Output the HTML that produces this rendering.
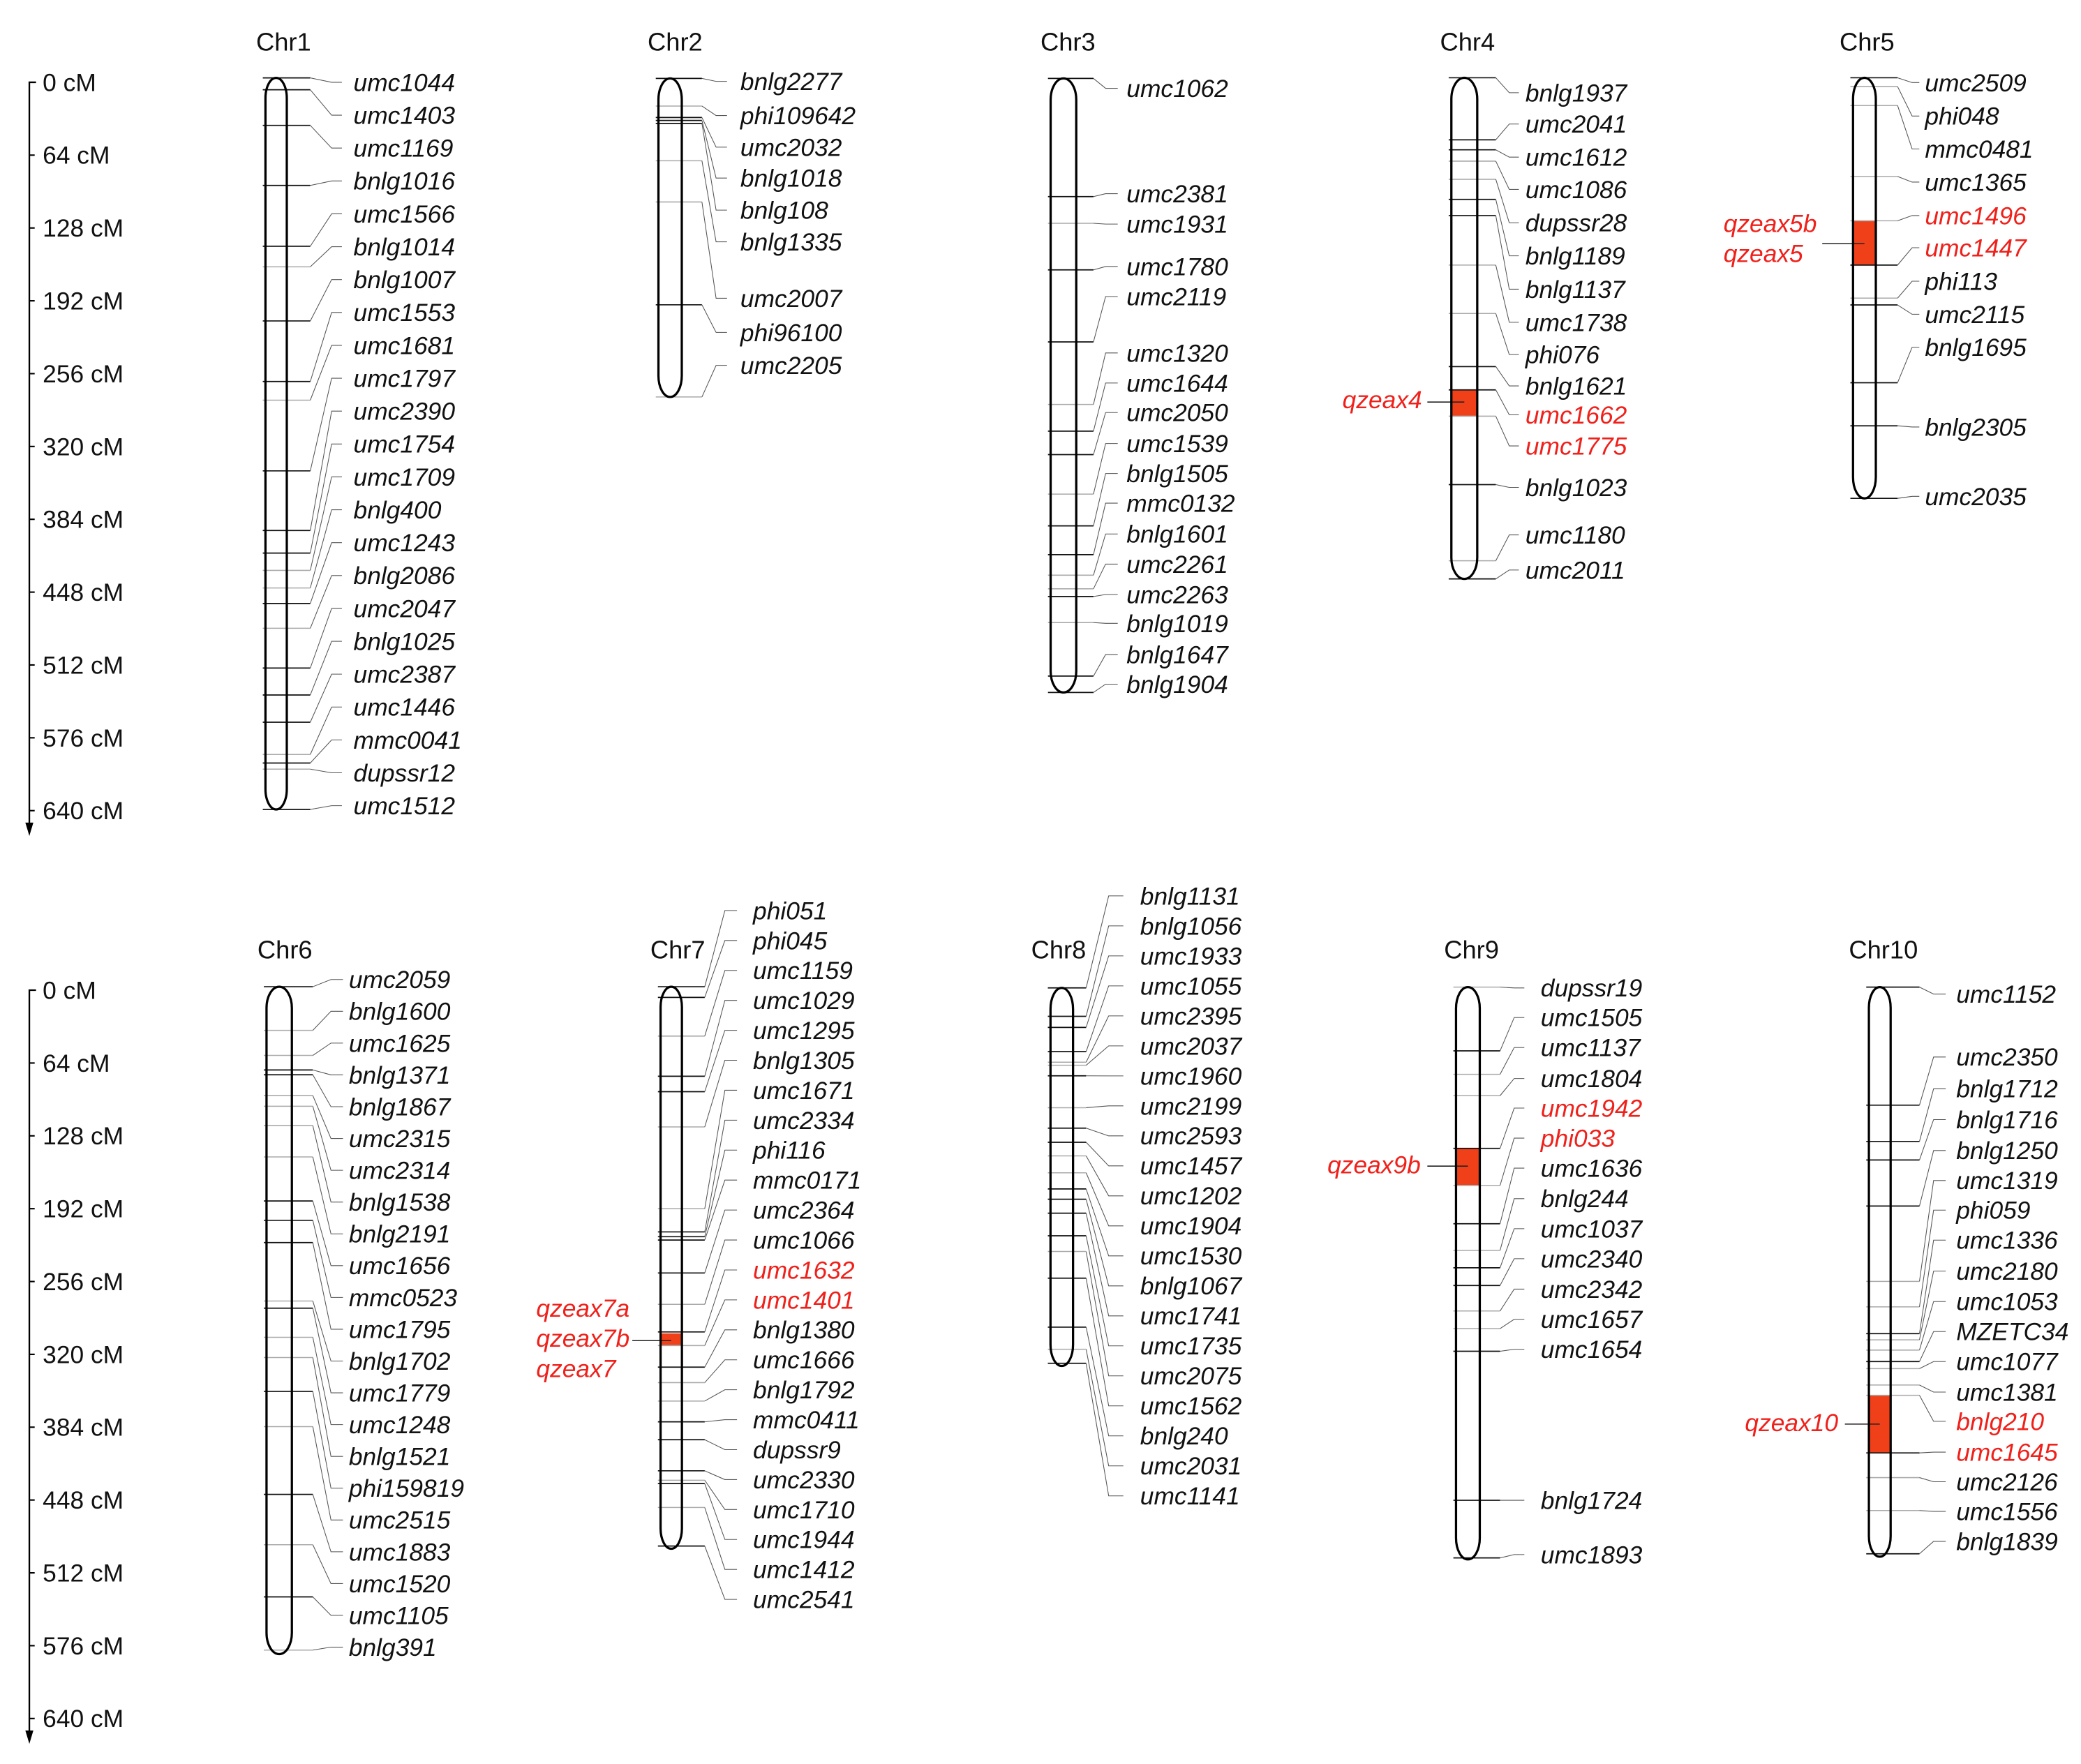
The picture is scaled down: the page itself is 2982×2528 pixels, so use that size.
<!DOCTYPE html>
<html><head><meta charset="utf-8"><style>
html,body{margin:0;padding:0;background:#fff}
svg{display:block}
text{font-family:"Liberation Sans",Arial,sans-serif;font-size:18.5px;fill:#111}
.m text{font-style:italic}
.r{fill:#f0201a!important}
.ttl{font-size:19px}
</style></head><body>
<svg id="s" xmlns="http://www.w3.org/2000/svg" width="2982" height="2528" viewBox="0 0 1560 1322.4" preserveAspectRatio="none">
<rect x="0" y="0" width="1560" height="1322.4" fill="#fff"/>
<g id="lines"></g>
<g class="ttl">
<text class="ttl" x="192" y="37.8">Chr1</text><text class="ttl" x="485.5" y="37.8">Chr2</text><text class="ttl" x="780" y="37.8">Chr3</text><text class="ttl" x="1079.5" y="37.8">Chr4</text><text class="ttl" x="1379" y="37.8">Chr5</text>
<text class="ttl" x="193" y="718.4">Chr6</text><text class="ttl" x="487.5" y="718.4">Chr7</text><text class="ttl" x="773" y="718.4">Chr8</text><text class="ttl" x="1082.5" y="718.4">Chr9</text><text class="ttl" x="1386" y="718.4">Chr10</text>
</g>
<g id="scale1"><text x="32" y="68.2">0 cM</text><text x="32" y="122.8">64 cM</text><text x="32" y="177.4">128 cM</text><text x="32" y="232">192 cM</text><text x="32" y="286.6">256 cM</text><text x="32" y="341.2">320 cM</text><text x="32" y="395.8">384 cM</text><text x="32" y="450.4">448 cM</text><text x="32" y="505">512 cM</text><text x="32" y="559.6">576 cM</text><text x="32" y="614.2">640 cM</text></g>
<g id="scale2"><text x="32" y="748.8">0 cM</text><text x="32" y="803.4">64 cM</text><text x="32" y="858">128 cM</text><text x="32" y="912.6">192 cM</text><text x="32" y="967.2">256 cM</text><text x="32" y="1021.8">320 cM</text><text x="32" y="1076.4">384 cM</text><text x="32" y="1131">448 cM</text><text x="32" y="1185.6">512 cM</text><text x="32" y="1240.2">576 cM</text><text x="32" y="1294.8">640 cM</text></g>
<g class="m" id="c1"><text>umc1044</text><text>umc1403</text><text>umc1169</text><text>bnlg1016</text><text>umc1566</text><text>bnlg1014</text><text>bnlg1007</text><text>umc1553</text><text>umc1681</text><text>umc1797</text><text>umc2390</text><text>umc1754</text><text>umc1709</text><text>bnlg400</text><text>umc1243</text><text>bnlg2086</text><text>umc2047</text><text>bnlg1025</text><text>umc2387</text><text>umc1446</text><text>mmc0041</text><text>dupssr12</text><text>umc1512</text></g>
<g class="m" id="c2"><text>bnlg2277</text><text>phi109642</text><text>umc2032</text><text>bnlg1018</text><text>bnlg108</text><text>bnlg1335</text><text>umc2007</text><text>phi96100</text><text>umc2205</text></g>
<g class="m" id="c3"><text>umc1062</text><text>umc2381</text><text>umc1931</text><text>umc1780</text><text>umc2119</text><text>umc1320</text><text>umc1644</text><text>umc2050</text><text>umc1539</text><text>bnlg1505</text><text>mmc0132</text><text>bnlg1601</text><text>umc2261</text><text>umc2263</text><text>bnlg1019</text><text>bnlg1647</text><text>bnlg1904</text></g>
<g class="m" id="c4"><text>bnlg1937</text><text>umc2041</text><text>umc1612</text><text>umc1086</text><text>dupssr28</text><text>bnlg1189</text><text>bnlg1137</text><text>umc1738</text><text>phi076</text><text>bnlg1621</text><text class="r">umc1662</text><text class="r">umc1775</text><text>bnlg1023</text><text>umc1180</text><text>umc2011</text></g>
<g class="m" id="c5"><text>umc2509</text><text>phi048</text><text>mmc0481</text><text>umc1365</text><text class="r">umc1496</text><text class="r">umc1447</text><text>phi113</text><text>umc2115</text><text>bnlg1695</text><text>bnlg2305</text><text>umc2035</text></g>
<g class="m" id="c6"><text>umc2059</text><text>bnlg1600</text><text>umc1625</text><text>bnlg1371</text><text>bnlg1867</text><text>umc2315</text><text>umc2314</text><text>bnlg1538</text><text>bnlg2191</text><text>umc1656</text><text>mmc0523</text><text>umc1795</text><text>bnlg1702</text><text>umc1779</text><text>umc1248</text><text>bnlg1521</text><text>phi159819</text><text>umc2515</text><text>umc1883</text><text>umc1520</text><text>umc1105</text><text>bnlg391</text></g>
<g class="m" id="c7"><text>phi051</text><text>phi045</text><text>umc1159</text><text>umc1029</text><text>umc1295</text><text>bnlg1305</text><text>umc1671</text><text>umc2334</text><text>phi116</text><text>mmc0171</text><text>umc2364</text><text>umc1066</text><text class="r">umc1632</text><text class="r">umc1401</text><text>bnlg1380</text><text>umc1666</text><text>bnlg1792</text><text>mmc0411</text><text>dupssr9</text><text>umc2330</text><text>umc1710</text><text>umc1944</text><text>umc1412</text><text>umc2541</text></g>
<g class="m" id="c8"><text>bnlg1131</text><text>bnlg1056</text><text>umc1933</text><text>umc1055</text><text>umc2395</text><text>umc2037</text><text>umc1960</text><text>umc2199</text><text>umc2593</text><text>umc1457</text><text>umc1202</text><text>umc1904</text><text>umc1530</text><text>bnlg1067</text><text>umc1741</text><text>umc1735</text><text>umc2075</text><text>umc1562</text><text>bnlg240</text><text>umc2031</text><text>umc1141</text></g>
<g class="m" id="c9"><text>dupssr19</text><text>umc1505</text><text>umc1137</text><text>umc1804</text><text class="r">umc1942</text><text class="r">phi033</text><text>umc1636</text><text>bnlg244</text><text>umc1037</text><text>umc2340</text><text>umc2342</text><text>umc1657</text><text>umc1654</text><text>bnlg1724</text><text>umc1893</text></g>
<g class="m" id="c10"><text>umc1152</text><text>umc2350</text><text>bnlg1712</text><text>bnlg1716</text><text>bnlg1250</text><text>umc1319</text><text>phi059</text><text>umc1336</text><text>umc2180</text><text>umc1053</text><text>MZETC34</text><text>umc1077</text><text>umc1381</text><text class="r">bnlg210</text><text class="r">umc1645</text><text>umc2126</text><text>umc1556</text><text>bnlg1839</text></g>
<g class="m">
<text class="r" x="1066" y="306" text-anchor="end">qzeax4</text>
<text class="r" x="1292" y="174">qzeax5b</text>
<text class="r" x="1292" y="196.4">qzeax5</text>
<text class="r" x="402" y="987">qzeax7a</text>
<text class="r" x="402" y="1009.5">qzeax7b</text>
<text class="r" x="402" y="1032.3">qzeax7</text>
<text class="r" x="1065" y="879.7" text-anchor="end">qzeax9b</text>
<text class="r" x="1378" y="1073" text-anchor="end">qzeax10</text>
</g>
</svg>
<script>
(function(){
var NS="http://www.w3.org/2000/svg",L=document.getElementById('lines');
function el(n,a){var e=document.createElementNS(NS,n);for(var k in a)e.setAttribute(k,a[k]);L.appendChild(e);return e;}
function uni(a,b,n){var r=[];for(var i=0;i<n;i++)r.push(a+(b-a)*i/(n-1));return r;}
var C=[
{id:'c1',l:199,r:215,h:[232.6,248.6,256.3,265],top:58.4,bot:606.8,
m:[58.4,67.3,94,139,184.6,200,240.6,286,300,353,397.7,414.6,427.6,440.8,452.4,471,500.8,521,541.4,565.6,572,576.6,606.8],g:[5,8,12,13,15,19,21],L:uni(61.7,604,23)},
{id:'c2',l:493.6,r:511.1,h:[526.2,536.8,545,555],top:58.8,bot:297.6,
m:[58.8,79.5,88.1,90.3,92.5,120.5,151.4,228.5,297.6],g:[1,5,6,8],L:[61,86.6,110.3,133.5,157.5,181.3,223.6,249.2,273.9]},
{id:'c3',l:787.6,r:806.8,h:[819.7,828.8,837.9,844.5],top:58.8,bot:519.1,
m:[58.8,147.4,167.4,202.3,256.3,303.2,323.2,340.8,370.4,394.2,415.8,431.2,441.4,447.2,466.7,506.8,519.1],g:[2,5,8,11,12,14],L:[66.2,145.2,168,199.8,222.3,264.6,287.1,309.3,332.5,355,377.2,400.3,422.9,445.7,467.3,490.7,512.9]},
{id:'c4',l:1088,r:1107.4,h:[1121.3,1131.4,1138.6,1143.5],top:58.3,bot:434,
m:[58.3,104.8,112.3,120.8,134.4,149.5,161.6,198.7,235,274.8,292.3,312,363.3,420.4,434],g:[3,4,7,8,11,13],L:[69.5,93,117.8,142,167,191.8,216.8,241.6,265.8,289.3,311,334.3,365.4,401,427.3],red:[292.3,312],q:[1070,301.4]},
{id:'c5',l:1389.1,r:1406.2,h:[1422.5,1433.4,1438.8,1443],top:58.3,bot:373.6,
m:[58.3,64.9,79.1,132.3,165.5,198.7,223.5,228.6,286.9,319.2,373.6],g:[1,2,3,4,6],L:[61.9,87,111.7,136.5,161.6,185.7,210.8,235.6,260.3,320.1,372.1],red:[165.5,198.7],q:[1366,182.7]},
{id:'c6',l:199.8,r:218.8,h:[234.5,248.1,257.1,261.5],top:739.7,bot:1240,
m:[739.7,772.4,791.2,802.1,805.7,821.3,829.3,843.8,867.3,900.3,914.8,931.5,975.3,980.7,1002.5,1017.7,1043.1,1069.5,1120.3,1158,1197.1,1237],g:[1,2,5,6,7,8,12,14,15,17,19,21],L:uni(734.3,1234.8,22)},
{id:'c7',l:495.2,r:511.2,h:[528.3,543.4,552.5,564.5],top:739.7,bot:1161,
m:[739.7,747.7,776.7,806.8,818.4,844.8,906.1,923.5,927.1,929.6,954.3,977.8,998.5,1008.7,1024.9,1036.5,1050.3,1065.9,1079.3,1102.6,1109.7,1112.2,1130.1,1159],g:[2,5,6,11,13,15,16,20,22],L:uni(682.6,1199,24),red:[999.6,1008.7],q:[474,1005]},
{id:'c8',l:787.5,r:804.4,h:[814.2,831.1,842.1,854.7],top:740.6,bot:1024,
m:[740.6,761.9,770.2,788.4,796.3,798.6,806.5,830.4,845.7,856.3,866.5,879.2,891.3,899,909.5,926.4,938.2,958.2,994.9,1011.5,1022],g:[4,5,7,10,11,16,19],L:uni(671.6,1121.4,21)},
{id:'c9',l:1091.5,r:1109.3,h:[1124.5,1135.1,1142.7,1155],top:740,bot:1169,
m:[740,787.8,805.4,821.4,860.9,888.7,917.4,937.4,950.4,963.7,982.8,996,1013,1124.7,1167.9],g:[0,2,3,5,7,10,11],L:[740.6,762.8,785.3,808.5,830.7,853.2,875.7,898.6,921.1,943.6,966.4,989,1011.5,1124.7,1165.4],red:[860.9,888.7],q:[1070,874.2]},
{id:'c10',l:1401,r:1417.3,h:[1438.9,1449.5,1458.6,1466.5],top:740,bot:1167,
m:[740,828.5,855.7,869.6,904.1,960.6,979.7,999.8,1004.4,1012.1,1020.7,1026,1038.3,1046,1089.2,1107.7,1132.4,1164.8],g:[5,6,8,9,11,12,13,15,16],L:[745.2,792.4,816.2,839.3,862.5,885,907.2,929.7,952.9,975.7,998.2,1020.7,1043.6,1065.5,1088.6,1110.8,1133,1155.5],red:[1046,1089.2],q:[1383,1067.6]}
];
C.forEach(function(c){
 var w=c.r-c.l,ry=Math.min(16,w*0.95);
 el('rect',{x:c.l,y:c.top,width:w,height:c.bot-c.top,rx:w/2,ry:ry,fill:'#fff',stroke:'none'});
 if(c.red){el('rect',{x:c.l,y:c.red[0],width:w,height:c.red[1]-c.red[0],fill:'#f0401a'});
  el('line',{x1:c.q[0],y1:c.q[1],x2:c.l+w/2,y2:c.q[1],stroke:'#222','stroke-width':0.8});}
 var txt=document.getElementById(c.id).getElementsByTagName('text');
 for(var i=0;i<c.m.length;i++){
  var y=c.m[i],ly=c.L[i],gr=c.g.indexOf(i)>=0;
  el('line',{x1:c.l-2,y1:y,x2:c.h[0],y2:y,stroke:gr?'#aaa':'#111','stroke-width':gr?0.8:0.9});
  el('path',{d:'M'+c.h[0]+' '+y+' L'+c.h[1]+' '+ly+' H'+c.h[2],fill:'none',stroke:'#555','stroke-width':0.55});
  if(txt[i]){txt[i].setAttribute('x',c.h[3]);txt[i].setAttribute('y',ly+6.5);}
 }
 el('rect',{x:c.l,y:c.top,width:w,height:c.bot-c.top,rx:w/2,ry:ry,fill:'none',stroke:'#000','stroke-width':1.7});
});
function axis(y0){
 el('path',{d:'M27 '+y0+' H22 V'+(y0+559),fill:'none',stroke:'#000','stroke-width':1.2});
 el('path',{d:'M19 '+(y0+555)+' L22 '+(y0+565)+' L25 '+(y0+555)+' Z',fill:'#000'});
 for(var k=1;k<=10;k++){var yy=y0+k*54.6;el('line',{x1:22,y1:yy,x2:26,y2:yy,stroke:'#000','stroke-width':1.1});}
}
axis(61.7);axis(742.3);
})();
</script>
</body></html>
